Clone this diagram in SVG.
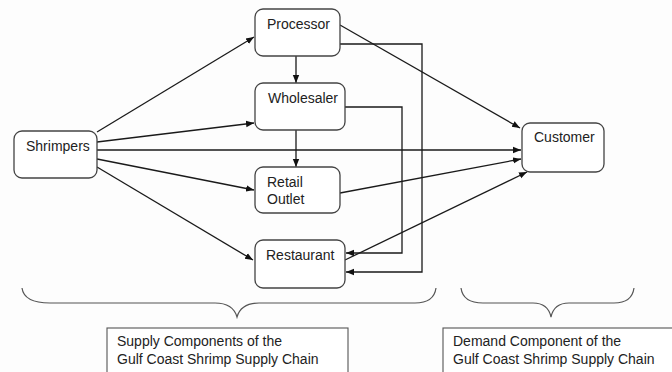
<svg xmlns="http://www.w3.org/2000/svg" width="672" height="372" viewBox="0 0 672 372">
<defs>
<marker id="ah" viewBox="0 0 10 10" refX="10" refY="5" markerWidth="8" markerHeight="8" markerUnits="userSpaceOnUse" orient="auto">
<path d="M0,1 L10,5 L0,9 z" fill="#111"/>
</marker>
<style>
.node rect{fill:#fff;stroke:#444;stroke-width:1.3}
.lbl{font-family:"Liberation Sans",Arial,sans-serif;font-size:14px;fill:#222}
.c line,.c polyline{stroke:#1a1a1a;stroke-width:1.3;fill:none}
.brace{stroke:#555;stroke-width:1.2;fill:none}
.tb{fill:#fff;stroke:#555;stroke-width:1.1}
</style>
</defs>
<rect width="672" height="372" fill="#fdfdfd"/>
<g class="c">
<line x1="97" y1="132" x2="254" y2="37" marker-end="url(#ah)"/>
<line x1="97" y1="142" x2="254" y2="123" marker-end="url(#ah)"/>
<line x1="97" y1="150" x2="521" y2="150" marker-end="url(#ah)"/>
<line x1="97" y1="159" x2="254" y2="190" marker-end="url(#ah)"/>
<line x1="97" y1="167" x2="253" y2="260" marker-end="url(#ah)"/>
<line x1="296" y1="55" x2="296" y2="83" marker-end="url(#ah)"/>
<line x1="296" y1="130" x2="296" y2="167" marker-end="url(#ah)"/>
<line x1="340" y1="25" x2="520" y2="128" marker-end="url(#ah)"/>
<line x1="340" y1="193" x2="521" y2="159" marker-end="url(#ah)"/>
<line x1="345" y1="260" x2="527" y2="172" marker-end="url(#ah)"/>
<polyline points="340,44 422,44 422,272 346,272" marker-end="url(#ah)"/>
<polyline points="345,107 402,107 402,253 346,253" marker-end="url(#ah)"/>
</g>
<g id="processor" class="node"><rect x="255" y="9" width="85" height="47" rx="8"/><text class="lbl" x="267" y="29">Processor</text></g>
<g id="wholesaler" class="node"><rect x="255" y="83" width="90" height="47" rx="8"/><text class="lbl" x="268" y="103">Wholesaler</text></g>
<g id="shrimpers" class="node"><rect x="14" y="131" width="83" height="47" rx="8"/><text class="lbl" x="26" y="151">Shrimpers</text></g>
<g id="retail" class="node"><rect x="255" y="167" width="85" height="46" rx="8"/><text class="lbl" x="267" y="187">Retail</text><text class="lbl" x="267" y="204">Outlet</text></g>
<g id="restaurant" class="node"><rect x="255" y="240" width="90" height="48" rx="8"/><text class="lbl" x="266" y="260">Restaurant</text></g>
<g id="customer" class="node"><rect x="522" y="123" width="82" height="49" rx="8"/><text class="lbl" x="534" y="142">Customer</text></g>
<g id="supplyBrace">
<path class="brace" d="M22,288 Q24,303 50,303 L215,303 Q233,303 237,317 Q241,303 259,303 L415,303 Q434,303 436,288"/>
</g>
<g id="demandBrace">
<path class="brace" d="M461,288 Q463,303 483,303 L533,303 Q548,303 551,317 Q554,303 569,303 L614,303 Q632,303 634,288"/>
</g>
<g id="supplyLabel">
<rect class="tb" x="107" y="328" width="241" height="50"/>
<text class="lbl" x="117" y="346">Supply Components of the</text>
<text class="lbl" x="117" y="364">Gulf Coast Shrimp Supply Chain</text>
</g>
<g id="demandLabel">
<rect class="tb" x="443" y="328" width="240" height="50"/>
<text class="lbl" x="453" y="346">Demand Component of the</text>
<text class="lbl" x="453" y="364">Gulf Coast Shrimp Supply Chain</text>
</g>
</svg>
